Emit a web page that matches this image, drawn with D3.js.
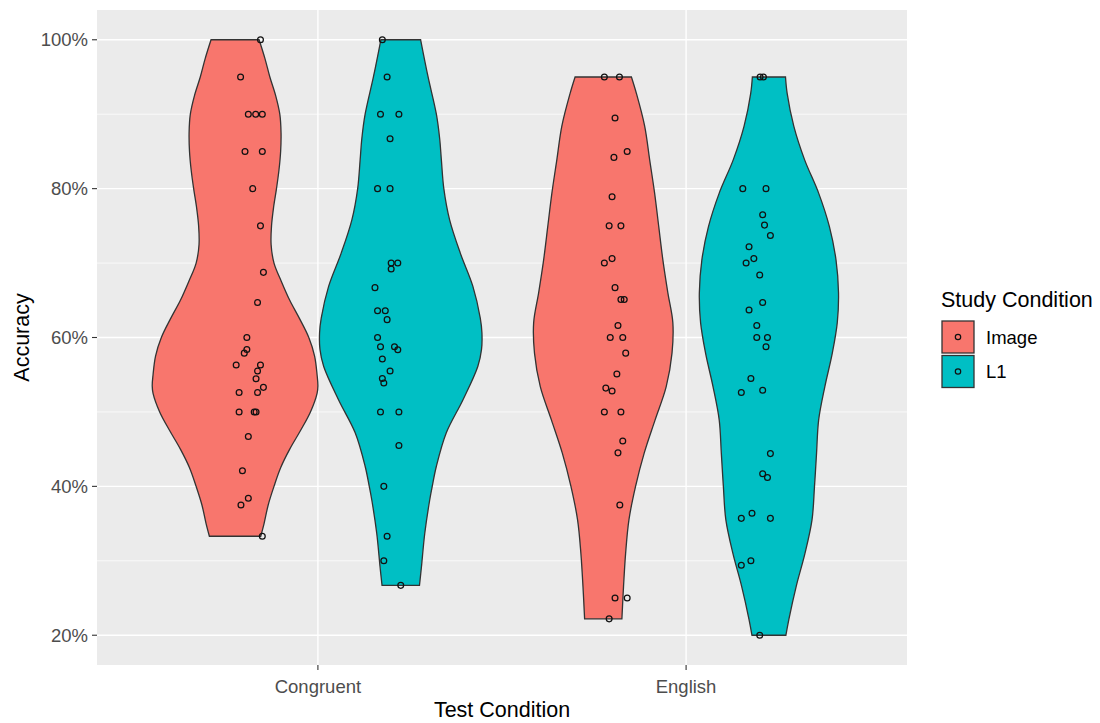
<!DOCTYPE html>
<html>
<head>
<meta charset="utf-8">
<script src="https://cdn.jsdelivr.net/npm/d3@7"></script>
<style>
  body { margin: 0; background: #ffffff; }
  text { font-family: "Liberation Sans", Arial, sans-serif; }
</style>
</head>
<body>
<svg id="chart" width="1100" height="723"></svg>
<script>
// ---- data -----------------------------------------------------------
const testConditions = ["Congruent", "English"];
const studyConditions = ["Image", "L1"];
const yTickValues = [20, 40, 60, 80, 100];
const yMinorValues = [30, 50, 70, 90];
const fillColors = ["#F8766D", "#00BFC4"];

// accuracy (%) per participant
const congruentImage = [100, 95, 90, 90, 90, 85, 85, 80, 75, 68.75, 64.7, 60, 58.4, 57.9, 56.3, 56.3,
  55.5, 54.45, 53.3, 52.6, 52.6, 50, 50, 50, 46.7, 42.1, 38.4, 37.5, 33.3];
const congruentL1 = [100, 95, 90, 90, 86.7, 80, 80, 70, 70, 69.2, 66.7, 63.6, 63.6, 62.4, 60, 58.75,
  58.75, 58.35, 57.1, 55.5, 54.5, 53.9, 50, 50, 45.5, 40, 33.3, 30, 26.7];
const englishImage = [95, 95, 89.5, 85, 84.2, 78.9, 75, 75, 70.6, 70, 66.7, 65.1, 65.1, 61.6, 60, 60,
  57.9, 55.1, 53.2, 52.8, 50, 50, 46.1, 44.5, 37.5, 25, 25, 22.2];
const englishL1 = [95, 95, 80, 80, 76.5, 75.1, 73.7, 72.2, 70.6, 70, 68.4, 64.7, 63.7, 61.6, 60, 60,
  58.75, 54.5, 52.9, 52.6, 44.4, 41.7, 41.2, 36.4, 35.7, 35.7, 30, 29.4, 20];

// horizontal jitter of each point, in category units from the category centre
const congruentImageJitter = [-0.156, -0.210, -0.189, -0.169, -0.151, -0.198, -0.151, -0.177, -0.156,
  -0.148, -0.164, -0.193, -0.193, -0.200, -0.222, -0.156, -0.164, -0.168, -0.148, -0.164, -0.214,
  -0.214, -0.173, -0.168, -0.189, -0.205, -0.189, -0.209, -0.151];
const congruentL1Jitter = [0.175, 0.188, 0.170, 0.220, 0.196, 0.162, 0.196, 0.199, 0.217, 0.199, 0.155,
  0.162, 0.183, 0.188, 0.162, 0.170, 0.208, 0.217, 0.175, 0.196, 0.175, 0.179, 0.170, 0.220, 0.220,
  0.179, 0.188, 0.179, 0.225];
const englishImageJitter = [-0.222, -0.181, -0.193, -0.160, -0.196, -0.201, -0.209, -0.177, -0.201,
  -0.222, -0.193, -0.177, -0.168, -0.185, -0.206, -0.172, -0.164, -0.188, -0.218, -0.201, -0.222,
  -0.177, -0.172, -0.185, -0.180, -0.193, -0.160, -0.209];
const englishL1Jitter = [0.201, 0.210, 0.154, 0.217, 0.208, 0.213, 0.229, 0.171, 0.184, 0.163, 0.200,
  0.208, 0.171, 0.192, 0.192, 0.221, 0.217, 0.176, 0.208, 0.150, 0.229, 0.208, 0.221, 0.179, 0.150,
  0.229, 0.176, 0.150, 0.200];

// violin outlines: accuracy level (%) and density relative to the widest violin
const congruentImageLevels = [100, 97.5, 95, 92.5, 90, 87.5, 85, 82.5, 80, 77.5, 75, 72.5, 70, 67.5, 65,
  62.5, 60, 57.5, 55, 53.5, 52.5, 50, 47.5, 45, 42.5, 40, 37.5, 35, 33.3];
const congruentImageDensity = [0.29, 0.36, 0.42, 0.49, 0.54, 0.555, 0.55, 0.53, 0.50, 0.465, 0.44, 0.435,
  0.47, 0.56, 0.66, 0.78, 0.89, 0.96, 0.99, 1.0, 0.99, 0.91, 0.79, 0.66, 0.55, 0.47, 0.40, 0.35, 0.31];
const congruentL1Levels = [100, 95, 90, 86.7, 83.9, 80, 75.8, 71.3, 66.9, 62.6, 60.6, 58.4, 56.1, 51.6,
  47.2, 42.7, 40, 38.2, 33.7, 29.2, 26.7];
const congruentL1Density = [0.24, 0.33, 0.43, 0.47, 0.49, 0.52, 0.59, 0.72, 0.87, 0.96, 0.98, 0.975, 0.93,
  0.75, 0.55, 0.43, 0.38, 0.35, 0.29, 0.25, 0.226];
const englishImageLevels = [95, 92.8, 88.4, 83.9, 79.4, 74.9, 70.4, 66, 62, 57.9, 53.4, 48.9, 44.5, 40,
  35.5, 31, 26.6, 22.2];
const englishImageDensity = [0.34, 0.40, 0.50, 0.56, 0.62, 0.67, 0.72, 0.78, 0.84, 0.83, 0.76, 0.625,
  0.495, 0.39, 0.31, 0.27, 0.245, 0.225];
const englishL1Levels = [95, 92.8, 88.4, 83.9, 79.4, 74.9, 70.4, 66, 62, 57.9, 53.4, 48.9, 44.5, 40,
  35.5, 31, 26.6, 22.1, 20];
const englishL1Density = [0.20, 0.22, 0.30, 0.43, 0.60, 0.73, 0.81, 0.84, 0.825, 0.765, 0.675, 0.60,
  0.575, 0.55, 0.52, 0.435, 0.33, 0.24, 0.205];

const groups = [
  { test: "Congruent", study: "Image", values: congruentImage, jitter: congruentImageJitter,
    levels: congruentImageLevels, density: congruentImageDensity },
  { test: "Congruent", study: "L1", values: congruentL1, jitter: congruentL1Jitter,
    levels: congruentL1Levels, density: congruentL1Density },
  { test: "English", study: "Image", values: englishImage, jitter: englishImageJitter,
    levels: englishImageLevels, density: englishImageDensity },
  { test: "English", study: "L1", values: englishL1, jitter: englishL1Jitter,
    levels: englishL1Levels, density: englishL1Density }
];

// ---- layout ---------------------------------------------------------
const panel = { left: 97, right: 907, top: 10, bottom: 665 };
const dodgeWidth = 0.9;

const svg = d3.select("#chart");

const x = d3.scalePoint().domain(testConditions)
  .range([panel.left, panel.right]).padding(0.6);
const step = x.step();
const y = d3.scaleLinear().domain([16, 104]).range([panel.bottom, panel.top]);
const color = d3.scaleOrdinal().domain(studyConditions).range(fillColors);

// panel background and grid
svg.append("rect")
  .attr("x", panel.left).attr("y", panel.top)
  .attr("width", panel.right - panel.left).attr("height", panel.bottom - panel.top)
  .attr("fill", "#EBEBEB");

svg.append("g").selectAll("line").data(yMinorValues).join("line")
  .attr("x1", panel.left).attr("x2", panel.right)
  .attr("y1", d => y(d)).attr("y2", d => y(d))
  .attr("stroke", "#ffffff").attr("stroke-width", 0.7);
svg.append("g").selectAll("line").data(yTickValues).join("line")
  .attr("x1", panel.left).attr("x2", panel.right)
  .attr("y1", d => y(d)).attr("y2", d => y(d))
  .attr("stroke", "#ffffff").attr("stroke-width", 1.4);
svg.append("g").selectAll("line").data(testConditions).join("line")
  .attr("x1", d => x(d)).attr("x2", d => x(d))
  .attr("y1", panel.top).attr("y2", panel.bottom)
  .attr("stroke", "#ffffff").attr("stroke-width", 1.4);

// ---- violins (dodged within each test condition) ---------------------
const violinWidth = dodgeWidth / studyConditions.length;

function groupCenter(g) {
  const idx = studyConditions.indexOf(g.study);
  const off = (idx - (studyConditions.length - 1) / 2) * violinWidth;
  return x(g.test) + off * step;
}

const violins = svg.append("g");
groups.forEach(g => {
  const cx = groupCenter(g);
  const profile = g.levels.map((v, i) => ({ value: v, density: g.density[i] }));
  const half = d => d.density * violinWidth / 2 * step;
  const area = d3.area()
    .curve(d3.curveCatmullRom.alpha(0.5))
    .y(d => y(d.value))
    .x0(d => cx - half(d))
    .x1(d => cx + half(d));
  violins.append("path")
    .datum(profile)
    .attr("d", area)
    .attr("fill", color(g.study))
    .attr("stroke", "#333333")
    .attr("stroke-width", 1.3);
});

// ---- jittered points -----------------------------------------------
const points = svg.append("g");
groups.forEach(g => {
  points.selectAll(null).data(g.values.map((v, i) => ({ v, j: g.jitter[i] }))).join("circle")
    .attr("cx", d => x(g.test) + d.j * step)
    .attr("cy", d => y(d.v))
    .attr("r", 2.9)
    .attr("fill", "none")
    .attr("stroke", "#111111")
    .attr("stroke-width", 1.25);
});

// ---- axes -----------------------------------------------------------
const tickColor = "#333333";
const labelColor = "#4D4D4D";

const yAxis = svg.append("g");
yAxis.selectAll("line").data(yTickValues).join("line")
  .attr("x1", panel.left - 5).attr("x2", panel.left)
  .attr("y1", d => y(d)).attr("y2", d => y(d))
  .attr("stroke", tickColor).attr("stroke-width", 1.1);
yAxis.selectAll("text").data(yTickValues).join("text")
  .attr("x", panel.left - 9).attr("y", d => y(d) + 6.5)
  .attr("text-anchor", "end")
  .attr("font-size", 18.5).attr("fill", labelColor)
  .text(d => d + "%");

const xAxis = svg.append("g");
xAxis.selectAll("line").data(testConditions).join("line")
  .attr("x1", d => x(d)).attr("x2", d => x(d))
  .attr("y1", panel.bottom).attr("y2", panel.bottom + 5)
  .attr("stroke", tickColor).attr("stroke-width", 1.1);
xAxis.selectAll("text").data(testConditions).join("text")
  .attr("x", d => x(d)).attr("y", 693)
  .attr("text-anchor", "middle")
  .attr("font-size", 18.5).attr("fill", labelColor)
  .text(d => d);

svg.append("text")
  .attr("x", (panel.left + panel.right) / 2).attr("y", 717)
  .attr("text-anchor", "middle")
  .attr("font-size", 21.5).attr("fill", "#000000")
  .text("Test Condition");

svg.append("text")
  .attr("transform", `translate(29,${(panel.top + panel.bottom) / 2}) rotate(-90)`)
  .attr("text-anchor", "middle")
  .attr("font-size", 21.5).attr("fill", "#000000")
  .text("Accuracy");

// ---- legend ---------------------------------------------------------
const legend = svg.append("g").attr("transform", "translate(941,0)");
legend.append("text")
  .attr("x", 0).attr("y", 306.5)
  .attr("font-size", 21.5).attr("fill", "#000000")
  .text("Study Condition");
const keys = legend.selectAll("g.key").data(studyConditions).join("g")
  .attr("class", "key")
  .attr("transform", (d, i) => `translate(0,${321 + i * 34.5})`);
keys.append("rect")
  .attr("x", 1).attr("y", 0).attr("width", 32).attr("height", 32)
  .attr("fill", d => color(d))
  .attr("stroke", "#333333").attr("stroke-width", 1.3);
keys.append("circle")
  .attr("cx", 17).attr("cy", 16).attr("r", 2.7)
  .attr("fill", "none").attr("stroke", "#111111").attr("stroke-width", 1.2);
keys.append("text")
  .attr("x", 45).attr("y", 16 + 6.5)
  .attr("font-size", 18.5).attr("fill", "#000000")
  .text(d => d);
</script>
</body>
</html>
